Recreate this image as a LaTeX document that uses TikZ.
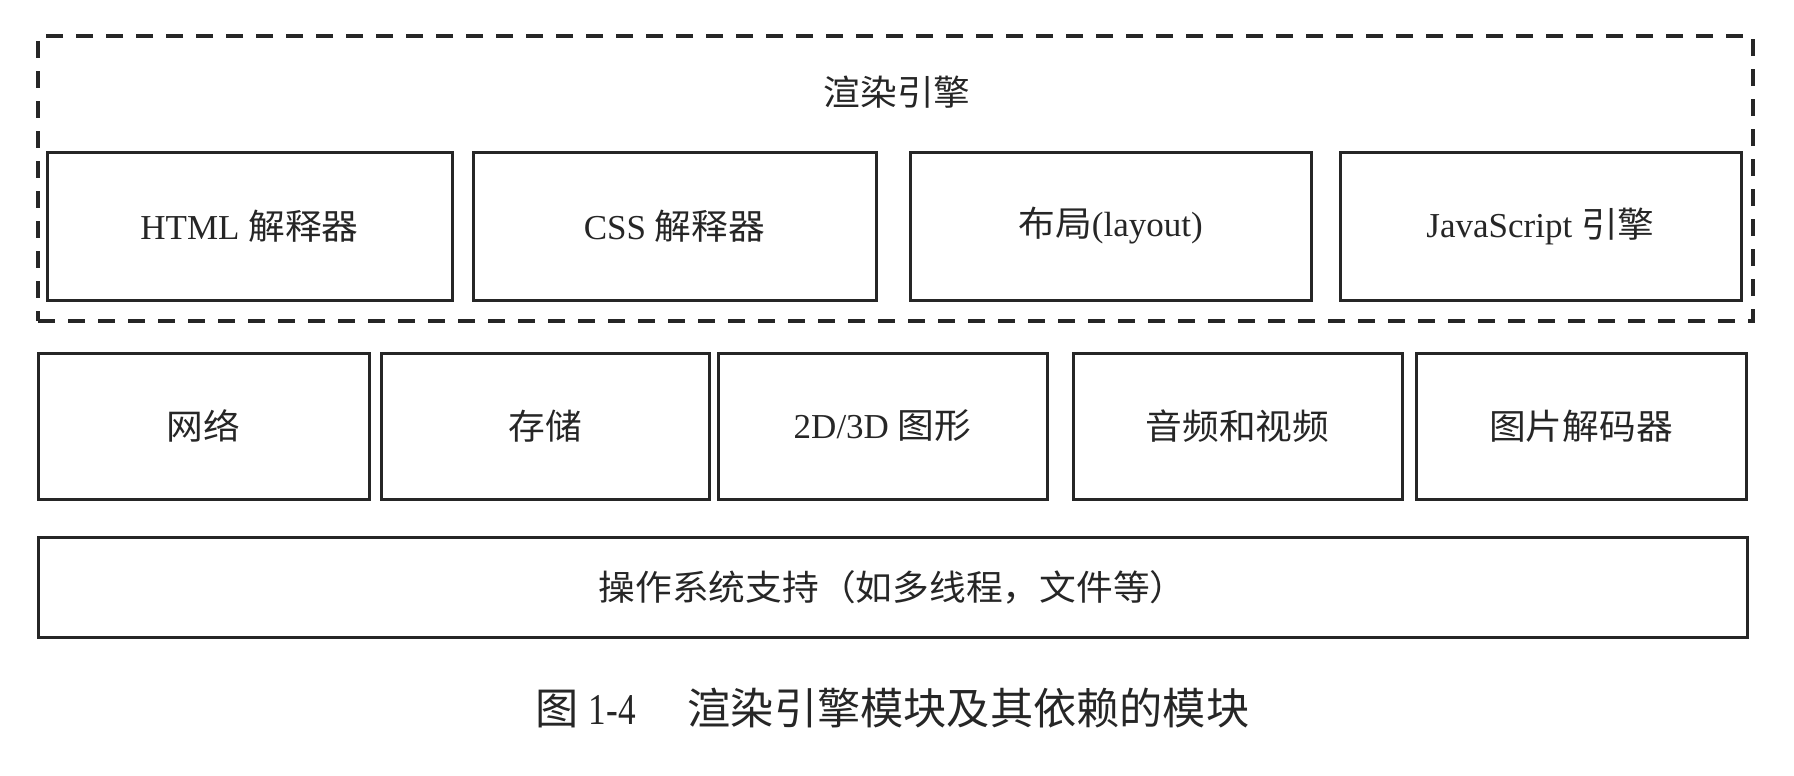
\documentclass[tikz,border=0pt]{standalone}
\usepackage{fontspec}
\setmainfont{Liberation Serif}
\newfontfamily\cjk[FakeStretch=1.05]{Noto Sans CJK SC}
\newfontfamily\capcjk{Noto Sans CJK SC}
\newfontfamily\capserif[FakeStretch=0.8]{Liberation Serif}
\begin{document}
\begin{tikzpicture}[x=0.5pt,y=-0.5pt,
  box/.style={draw=black!85, line width=1.5pt, inner sep=0pt, fill=white,
    font=\fontsize{17.5}{21}\selectfont, text=black!85},
  engine/.style={draw=black!85, line width=1.7pt, dash pattern=on 8.5pt off 6.5pt, inner sep=0pt},
  lbl/.style={font=\fontsize{17.5}{21}\selectfont, text=black!85, inner sep=0pt}]
\useasboundingbox (0,0) rectangle (1794,776);
% dashed rendering-engine frame
\node[engine, minimum width=857.5pt, minimum height=142.5pt] (eng) at (895.5,178.5) {};
\node[lbl] (title) at (897,92) {\cjk 渲染引擎};
% top row
\node[box, minimum width=202.5pt, minimum height=74pt] (html) at (249.5,226) {HTML {\cjk 解释器}};
\node[box, minimum width=201.5pt, minimum height=74pt] (css) at (674.5,226) {CSS {\cjk 解释器}};
\node[box, minimum width=200.5pt, minimum height=74pt] (layout) at (1110.5,226) {{\cjk 布局}(layout)};
\node[box, minimum width=200.5pt, minimum height=74pt] (js) at (1540.5,226) {JavaScript {\cjk 引擎}};
% middle row
\node[box, minimum width=165.5pt, minimum height=73pt] (net) at (203.5,426) {\cjk 网络};
\node[box, minimum width=164pt, minimum height=73pt] (store) at (545,426) {\cjk 存储};
\node[box, minimum width=164.5pt, minimum height=73pt] (gfx) at (882.5,426) {2D/3D {\cjk 图形}};
\node[box, minimum width=164.5pt, minimum height=73pt] (av) at (1237.5,426) {\cjk 音频和视频};
\node[box, minimum width=165pt, minimum height=73pt] (img) at (1581,426) {\cjk 图片解码器};
% bottom row
\node[box, minimum width=854.5pt, minimum height=50pt] (os) at (892.5,587) {\cjk 操作系统支持（如多线程，文件等）};
% caption
\node[font=\fontsize{21.6}{26}\selectfont, text=black!85, inner sep=0pt] (cap) at (892.5,708)
  {{\capcjk 图}\hspace{5pt}{\capserif\fontsize{22}{26}\selectfont 1-4}\hspace{26pt}{\capcjk 渲染引擎模块及其依赖的模块}};
\end{tikzpicture}
\end{document}
